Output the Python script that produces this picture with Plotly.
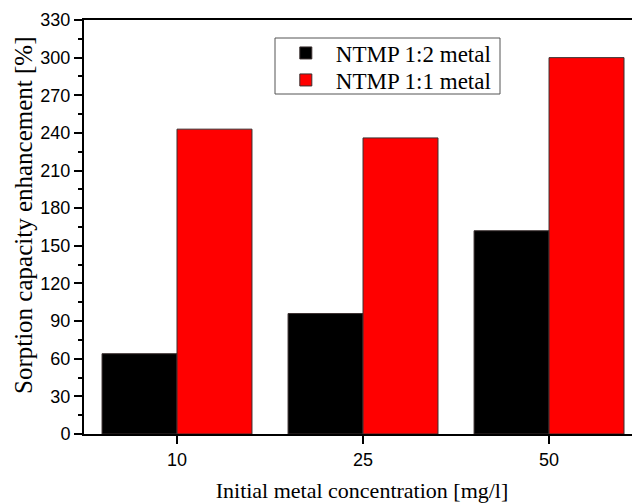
import plotly.graph_objects as go

categories = ["10", "25", "50"]
ntmp_12 = [64, 96, 162]
ntmp_11 = [243, 236, 300]
series_names = ["NTMP 1:2 metal", "NTMP 1:1 metal"]
y_ticks = list(range(0, 331, 30))
y_title = "Sorption capacity enhancement [%]"
x_title = "Initial metal concentration [mg/l]"

fig = go.Figure()
fig.add_trace(go.Bar(x=categories, y=ntmp_12, name=series_names[0], legend="legend",
                     marker=dict(color="#000000", line=dict(color="#3a2f2f", width=1))))
fig.add_trace(go.Bar(x=categories, y=ntmp_11, name=series_names[1], legend="legend2",
                     marker=dict(color="#ff0000", line=dict(color="#3a2f2f", width=1))))

# plot area: 84..640 px horizontally (figure starts at 8 px), 20..434 px vertically
def px_x(p):
    return (p - 84) / 556.0

def px_y(p):
    return (434 - p) / 414.0

legend_font = dict(family="Liberation Serif", size=23, color="black")
legend_common = dict(x=0.345, xanchor="left", yanchor="middle", borderwidth=0,
                     bgcolor="rgba(0,0,0,0)", font=legend_font, itemwidth=50)

xr = [-0.5, 2.489]
fig.update_layout(
    width=632, height=496,
    margin=dict(l=76, r=0, t=12, b=70, autoexpand=False),
    paper_bgcolor="white", plot_bgcolor="white",
    barmode="group", bargap=0.194, bargroupgap=0,
    showlegend=True,
    legend=dict(y=px_y(53), **legend_common),
    legend2=dict(y=px_y(80), **legend_common),
    shapes=[dict(type="rect", xref="paper", yref="paper",
                 x0=px_x(275), x1=px_x(500), y0=px_y(94), y1=px_y(38),
                 line=dict(color="#555555", width=1), fillcolor="white", layer="above")],
    annotations=[dict(text=y_title, xref="paper", yref="paper", x=px_x(23), y=px_y(215),
                      xanchor="center", yanchor="middle", textangle=-90, showarrow=False,
                      font=dict(family="Liberation Serif", size=25, color="black"))],
    xaxis=dict(type="category", categoryorder="array", categoryarray=categories,
               range=xr, automargin=False,
               showline=True, linecolor="black", linewidth=2, mirror=True,
               ticks="outside", ticklen=8, tickwidth=1.5, tickcolor="black",
               tickfont=dict(family="Liberation Sans", size=18, color="black"),
               showgrid=False, zeroline=False,
               title=dict(text=x_title,
                          font=dict(family="Liberation Serif", size=22, color="black"),
                          standoff=14)),
    xaxis2=dict(overlaying="x", side="top", range=xr, tickvals=[0, 1, 2], automargin=False,
                ticks="inside", ticklen=9, tickwidth=1.5, tickcolor="black",
                showticklabels=False, showline=False, showgrid=False, zeroline=False),
    yaxis=dict(range=[0, 330], tickvals=y_ticks, automargin=False,
               showline=True, linecolor="black", linewidth=2,
               ticks="outside", ticklen=8, tickwidth=1.5, tickcolor="black",
               minor=dict(dtick=15, ticks="outside", ticklen=4, tickcolor="black", tickwidth=1.5),
               tickfont=dict(family="Liberation Sans", size=18, color="black"),
               showgrid=False, zeroline=False),
    yaxis2=dict(overlaying="y", side="right", range=[0, 330], tickvals=y_ticks, automargin=False,
                ticks="inside", ticklen=7, tickwidth=1.5, tickcolor="black",
                minor=dict(dtick=15, ticks="inside", ticklen=4, tickcolor="black", tickwidth=1.5),
                showticklabels=False, showline=False, showgrid=False, zeroline=False),
)

fig.write_html("out.html")
